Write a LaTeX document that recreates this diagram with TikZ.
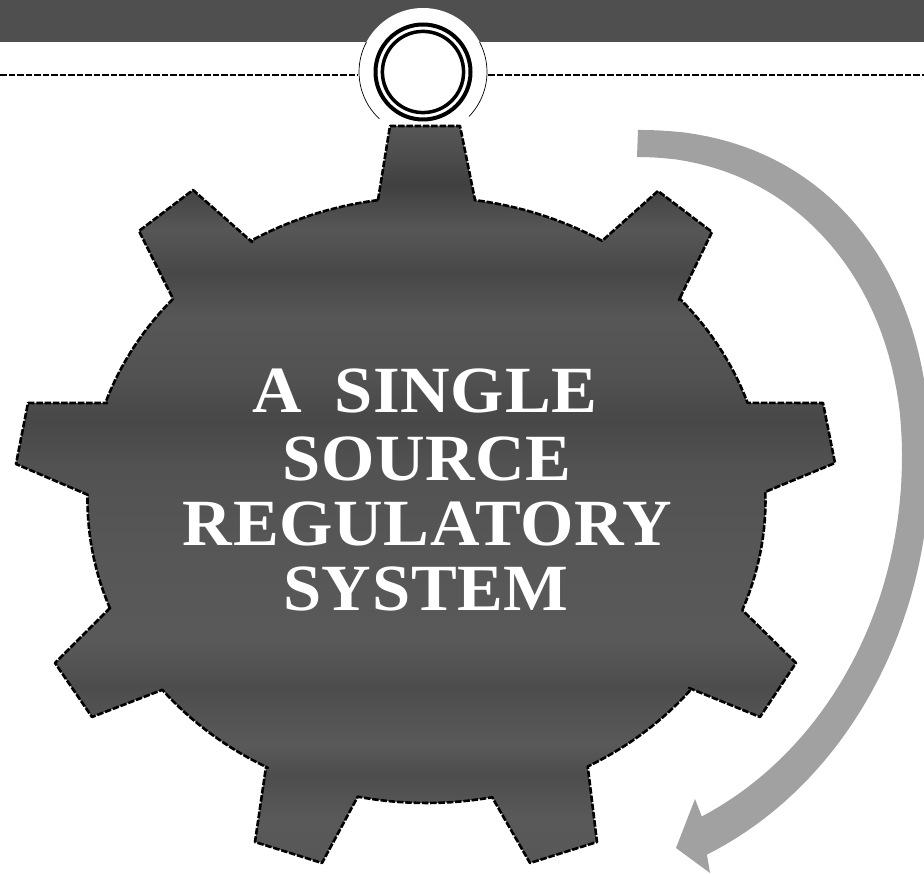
\documentclass[tikz,border=0pt]{standalone}
\usepackage{fontspec}
\setmainfont{Liberation Serif}
\pgfdeclareverticalshading{gearbands}{100bp}{
 color(0bp)=(black!66);
 color(25bp)=(black!66);
 color(28bp)=(black!65);
 color(31bp)=(black!70);
 color(33bp)=(black!65);
 color(37bp)=(black!70);
 color(40bp)=(black!65);
 color(46bp)=(black!66);
 color(52bp)=(black!68);
 color(55bp)=(black!72);
 color(58bp)=(black!68);
 color(62bp)=(black!66);
 color(65bp)=(black!72);
 color(68bp)=(black!66);
 color(71bp)=(black!75);
 color(73bp)=(black!70);
 color(75bp)=(black!66);
 color(100bp)=(black!66)}
\tikzset{
 gearbody/.style={shading=gearbands,draw=black,line width=2.6pt,dash pattern=on 6.5pt off 1.8pt,line join=round},
 darkbar/.style={fill=black!69,draw=none},
 dashline/.style={draw=black,line width=2.6pt,dash pattern=on 6.5pt off 2pt},
 thinarc/.style={draw=black,line width=0.7pt},
 sweep/.style={fill=black!37,draw=none},
 rim/.style 2 args={domain=#1:#2,samples=14},
 title/.style={text=white,font=\fontsize{66}{66}\selectfont\bfseries\addfontfeature{FakeStretch=1.04,LetterSpace=1},inner sep=0pt,anchor=base}
}
\begin{document}
\begin{tikzpicture}[x=1pt,y=-1pt]
\useasboundingbox (0,0) rectangle (924,874);
\clip (0,0) rectangle (924,874);
% top bar
\fill[darkbar] (0,0) rectangle (924,42);
% dashed rule
\draw[dashline] (0,75) -- (358,75);
\draw[dashline] (488,75) -- (924,75);
% hanging ring
\fill[white] (423,72) circle[radius=64];
\draw[thinarc] plot[domain=208:133,samples=20] ({423+64*cos(\x)},{72+64*sin(\x)});
\draw[thinarc] plot[domain=-28:44,samples=20] ({423+64*cos(\x)},{72+64*sin(\x)});
\draw[black,line width=4pt] (423,72) circle[radius=47.5];
\draw[black,line width=3.5pt] (423,72) circle[radius=40.6];
% sweep arrow
\path[sweep]
 (638,130)
 -- plot[domain=89.5:0.5,samples=40] ({638+292*pow(cos(\x),0.909)},{460-330*pow(sin(\x),0.909)})
 -- plot[domain=0:66.6,samples=40] ({560+370*cos(\x)},{460+430*sin(\x)})
 -- (707,855) -- (710,873) -- (676,848) -- (695,799) -- (702,817)
 -- plot[domain=65.5:0,samples=40] ({560+342*cos(\x)},{457+395*sin(\x)})
 -- plot[domain=0.5:89.5,samples=40] ({637+265*pow(cos(\x),0.952)},{457-300*pow(sin(\x),0.952)})
 -- (637,157) -- cycle;
% gear
\path[gearbody]
 (378,200) -- (390,126) -- (460,126) -- (475,200)
 -- plot[rim={-81.8}{-58.8}] ({426.5+339*cos(\x)},{500+303*sin(\x)})
 -- (658,191) -- (712,232) -- (679,300)
 -- plot[rim={-41.7}{-18.7}] ({426.5+339*cos(\x)},{500+303*sin(\x)})
 -- (823,403) -- (835,463) -- (765,492)
 -- plot[rim={-1.3}{21.3}] ({426.5+339*cos(\x)},{500+303*sin(\x)})
 -- (796,663) -- (760,717) -- (689,688)
 -- plot[rim={39.1}{61.6}] ({426.5+339*cos(\x)},{500+303*sin(\x)})
 -- (597,842) -- (530,863) -- (492,797)
 -- plot[rim={79}{101.7}] ({426.5+339*cos(\x)},{500+303*sin(\x)})
 -- (322,863) -- (255,842) -- (266,767)
 -- plot[rim={117.9}{141.2}] ({426.5+339*cos(\x)},{500+303*sin(\x)})
 -- (92,717) -- (55,663) -- (110,608)
 -- plot[rim={158.8}{181}] ({426.5+339*cos(\x)},{500+303*sin(\x)})
 -- (16,464) -- (28,403) -- (107,403)
 -- plot[rim={198.7}{221.6}] ({426.5+339*cos(\x)},{500+303*sin(\x)})
 -- (139,231) -- (193,190) -- (252,242)
 -- plot[rim={239}{261.8}] ({426.5+339*cos(\x)},{500+303*sin(\x)})
 -- cycle;
% title
\node[title] (t1) at (425,413) {A\hspace{.22em} SINGLE};
\node[title] (t2) at (427,480) {SOURCE};
\node[title] (t3) at (427.5,545) {REGULATORY};
\node[title] (t4) at (426,610) {SYSTEM};
\end{tikzpicture}
\end{document}
